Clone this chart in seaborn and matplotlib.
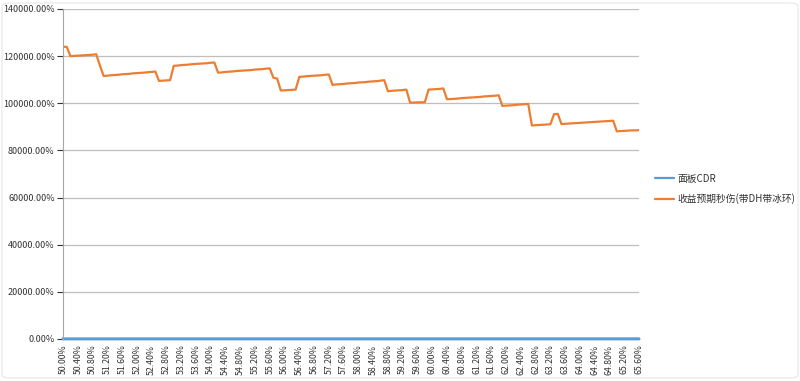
import numpy as np
import pandas as pd
import matplotlib
matplotlib.use("Agg")
import matplotlib.pyplot as plt
import seaborn as sns
from matplotlib.ticker import FuncFormatter
from matplotlib.patches import FancyBboxPatch

sns.set_style("white")
plt.rcParams['font.family'] = ['Noto Sans CJK SC', 'DejaVu Sans']

# x axis: panel CDR from 50.0% to 65.6% in 0.1% steps
cdr = np.round(np.arange(500, 657) / 1000, 3)

# expected burst damage (as fraction, shown as percent)
burst = [
    1239, 1240, 1200, 1201, 1202, 1203, 1204, 1205, 1206, 1208,
    1160, 1116, 1117, 1119, 1120, 1121, 1123, 1124, 1125, 1127,
    1128, 1129, 1130, 1132, 1133, 1135, 1095, 1096, 1097, 1098,
    1159, 1160, 1162, 1163, 1164, 1166, 1167, 1168, 1169, 1170,
    1172, 1173, 1130, 1131, 1133, 1134, 1135, 1137, 1138, 1139,
    1140, 1141, 1143, 1144, 1145, 1147, 1148, 1108, 1105, 1054,
    1055, 1056, 1057, 1058, 1112, 1113, 1115, 1116, 1117, 1118,
    1119, 1121, 1122, 1078, 1080, 1081, 1082, 1084, 1085, 1086,
    1088, 1089, 1090, 1092, 1093, 1094, 1096, 1098, 1051, 1053,
    1054, 1055, 1056, 1058, 1003, 1003, 1004, 1004, 1005, 1058,
    1059, 1060, 1061, 1063, 1017, 1018, 1019, 1020, 1022, 1023,
    1024, 1025, 1026, 1027, 1029, 1030, 1031, 1032, 1034, 989,
    990, 991, 992, 994, 995, 996, 997, 906, 907, 908,
    909, 910, 911, 954, 955, 912, 913, 914, 915, 916,
    917, 918, 919, 920, 921, 922, 923, 924, 925, 926,
    881, 882, 883, 884, 885, 885, 886,
]
burst = np.array(burst, dtype=float)

idx = np.arange(len(cdr))
df = pd.DataFrame({
    "idx": np.concatenate([idx, idx]),
    "value": np.concatenate([cdr, burst]),
    "series": ["面板CDR"] * len(cdr) + ["收益预期秒伤(带DH带冰环)"] * len(burst),
})

fig = plt.figure(figsize=(8, 3.81), dpi=100)

# faint chart-area border
fig.patches.append(FancyBboxPatch((2 / 800, 3 / 381), 796 / 800, 375 / 381,
                                  boxstyle="round,pad=0,rounding_size=0.01",
                                  transform=fig.transFigure, facecolor="none",
                                  edgecolor="#E6E6E6", linewidth=0.8))

ax = fig.add_axes([63 / 800, 42 / 381, 576 / 800, 330 / 381])

sns.lineplot(data=df, x="idx", y="value", hue="series",
             palette=["#5B9BD5", "#ED7D31"], linewidth=1.6, ax=ax)
ax.lines[0].set_linewidth(2.2)
ax.lines[0].set_clip_on(False)

ax.set_xlim(0, 156)
ax.set_ylim(0, 1400)
ax.set_yticks(np.arange(0, 1401, 200))
ax.yaxis.set_major_formatter(FuncFormatter(lambda v, p: f"{v * 100:.2f}%"))
ax.set_xticks(idx[::4])
ax.set_xticklabels([f"{c * 100:.2f}%" for c in cdr[::4]], rotation=90)
ax.tick_params(axis="y", labelsize=6.5, colors="#333333", length=4, left=True,
               width=0.8, pad=2)
ax.tick_params(axis="x", labelsize=6.3, colors="#333333", length=0, pad=4)
ax.grid(axis="y", color="#BFBFBF", linewidth=0.9)
ax.set_axisbelow(True)
for s in ["top", "right", "bottom"]:
    ax.spines[s].set_visible(False)
ax.spines["left"].set_color("#A6A6A6")
ax.set_xlabel("")
ax.set_ylabel("")

leg = ax.legend(loc="center left", bbox_to_anchor=(646 / 800, 1 - 189 / 381),
                bbox_transform=fig.transFigure, frameon=False, fontsize=7,
                handlelength=2.0, handletextpad=0.3, labelspacing=1.0,
                labelcolor="#333333")
for h in leg.get_lines():
    h.set_linewidth(1.6)

fig.savefig("out.png", dpi=100)
